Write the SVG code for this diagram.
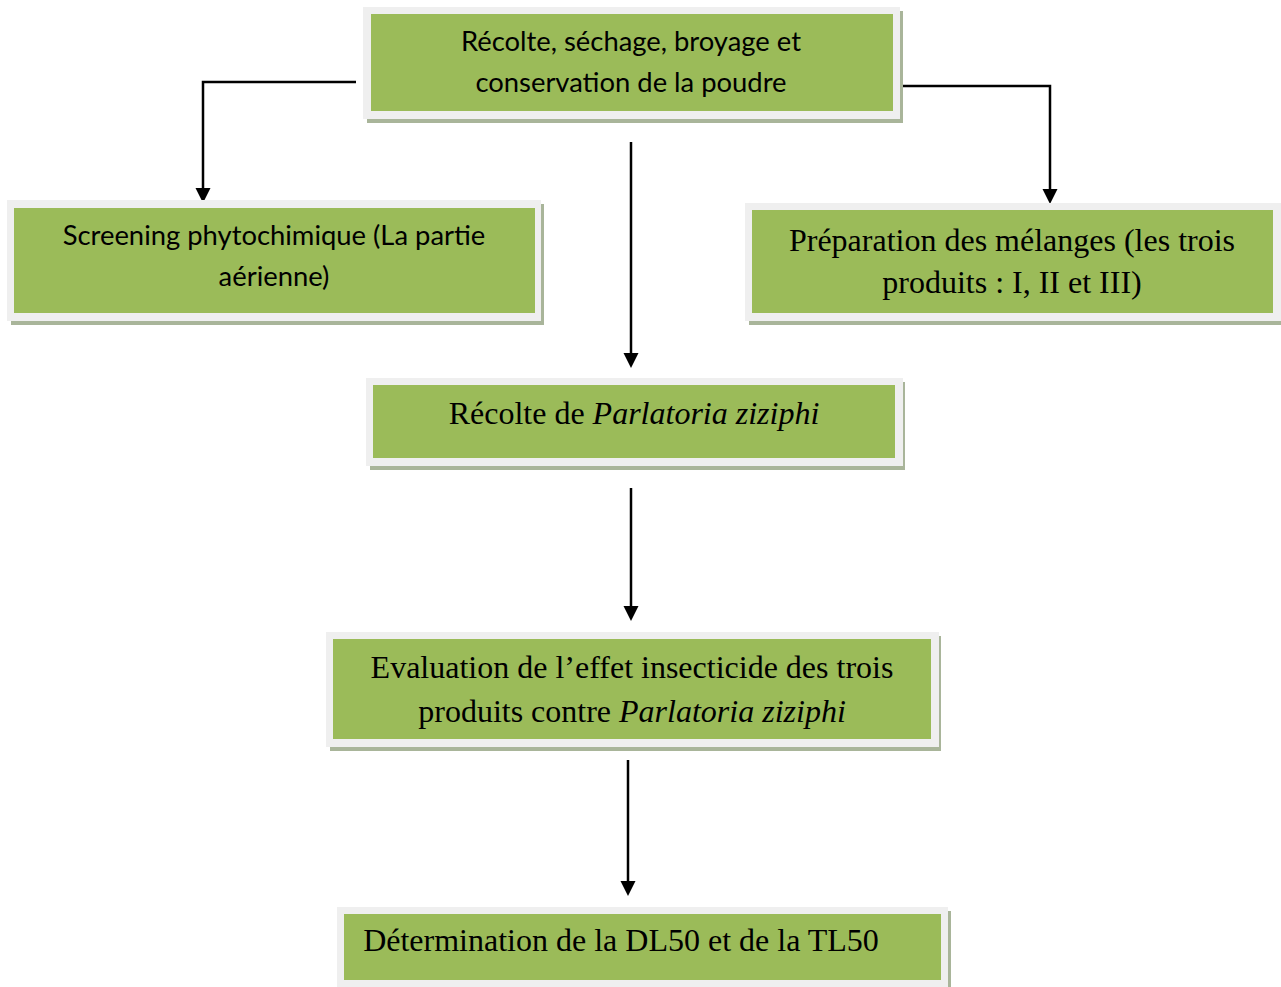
<svg xmlns="http://www.w3.org/2000/svg" width="1281" height="987" viewBox="0 0 1281 987">
<style>
.shadow{fill:#a9b59a}
.frame{fill:#efefef}
.green{fill:#9bbb59}
.sans{font-family:Lato,"Open Sans",sans-serif;font-size:27.4px;fill:#000;text-anchor:middle}
.serif{font-family:"Liberation Serif","Times New Roman",serif;font-size:32px;fill:#000;text-anchor:middle}
.line{stroke:#000;stroke-width:2.5;fill:none}
</style>
<defs>
<marker id="ah" markerWidth="16" markerHeight="16" refX="10" refY="7.5" orient="auto" markerUnits="userSpaceOnUse">
<path d="M0,0 L15,7.5 L0,15 Z" fill="#000"/>
</marker>
</defs>
<rect width="1281" height="987" fill="#fff"/>
<g id="connectors">
<polyline class="line" points="356,82 203,82 203,198" marker-end="url(#ah)"/>
<polyline class="line" points="903,86 1050,86 1050,199" marker-end="url(#ah)"/>
<line class="line" x1="631" y1="142" x2="631" y2="363" marker-end="url(#ah)"/>
<line class="line" x1="631" y1="488" x2="631" y2="616" marker-end="url(#ah)"/>
<line class="line" x1="628" y1="760" x2="628" y2="891" marker-end="url(#ah)"/>
</g>
<g id="n1">
<rect class="shadow" x="367" y="11" width="536" height="112"/>
<rect class="frame" x="363" y="7" width="537" height="112"/>
<rect class="green" x="371" y="14" width="522" height="97"/>
<text class="sans" x="631" y="51">Récolte, séchage, broyage et</text>
<text class="sans" x="631" y="92">conservation de la poudre</text>
</g>
<g id="n2">
<rect class="shadow" x="11" y="204" width="533" height="121"/>
<rect class="frame" x="7" y="200" width="534" height="121"/>
<rect class="green" x="14" y="208" width="521" height="105"/>
<text class="sans" x="274" y="245">Screening phytochimique (La partie</text>
<text class="sans" x="274" y="286">aérienne)</text>
</g>
<g id="n3">
<rect class="shadow" x="749" y="207" width="532" height="118"/>
<rect class="frame" x="745" y="203" width="536" height="118"/>
<rect class="green" x="752" y="210" width="521" height="103"/>
<text class="serif" x="1012" y="251">Préparation des mélanges (les trois</text>
<text class="serif" x="1012" y="293">produits : I, II et III)</text>
</g>
<g id="n4">
<rect class="shadow" x="370" y="382" width="535" height="88"/>
<rect class="frame" x="366" y="378" width="537" height="88"/>
<rect class="green" x="373" y="385" width="522" height="73"/>
<text class="serif" x="634" y="424">Récolte de <tspan font-style="italic">Parlatoria ziziphi</tspan></text>
</g>
<g id="n5">
<rect class="shadow" x="330" y="636" width="611" height="115"/>
<rect class="frame" x="326" y="632" width="613" height="115"/>
<rect class="green" x="333" y="639" width="598" height="100"/>
<text class="serif" x="632" y="678">Evaluation de l’effet insecticide des trois</text>
<text class="serif" x="632" y="722">produits contre <tspan font-style="italic">Parlatoria ziziphi</tspan></text>
</g>
<g id="n6">
<rect class="shadow" x="341" y="911" width="610" height="80"/>
<rect class="frame" x="337" y="907" width="611" height="80"/>
<rect class="green" x="344" y="914" width="597" height="66"/>
<text class="serif" x="621" y="951">Détermination de la DL50 et de la TL50</text>
</g>
</svg>
